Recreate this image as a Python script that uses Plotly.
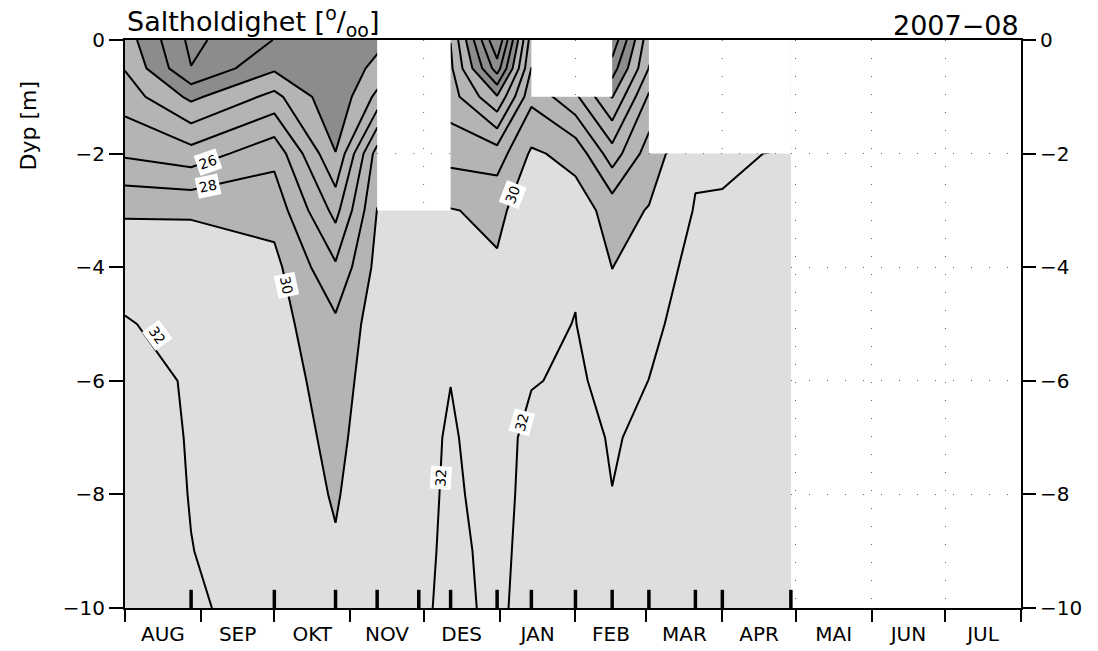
import pandas as pd
import plotly.graph_objects as go

# ---- station visits (first column: profile at the start of the year window) ----
dates = ["2007-08-01", "2007-08-28", "2007-10-01", "2007-10-26", "2007-11-12",
         "2007-11-29", "2007-12-12", "2007-12-31", "2008-01-14", "2008-02-01",
         "2008-02-16", "2008-03-02", "2008-03-21", "2008-04-01", "2008-04-29"]
depths = [0, 0.5, 1, 2, 3, 4, 5, 6, 7, 8, 9, 10]

# salinity profiles (per mille), surface to 10 m; None = not measured
s_0801 = [21.0, 21.9, 23.1, 25.7, 29.8, 31.15, 32.15, 32.35, 32.55, 32.7, 32.8, 32.9]
s_0828 = [15.5, 16.05, 19.55, 24.8, 29.8, 31.0, 31.32, 31.91, 31.93, 31.96, 32.02, 32.1]
s_1001 = [18.05, 19.7, 22.6, 27.4, 29.3, 30.55, 30.8, 31.1, 31.4, 31.45, 31.5, 31.7]
s_1026 = [18.8, 18.7, 18.4, 20.05, 23.35, 26.3, 28.4, 29.0, 29.4, 29.8, 30.2, 30.6]
s_1112 = [19.5, 20.5, 22.5, 28.9, 30.05, 30.6, 31.0, 31.2, 31.4, 31.5, 31.6, 31.7]
s_1129 = [None, None, None, None, 30.4, 30.9, 31.1, 31.2, 31.29, 31.35, 31.5, 31.65]
s_1212 = [23.95, 24.4, 24.9, 27.3, 30.1, 30.8, 31.3, 31.97, 32.25, 32.35, 32.4, 32.45]
s_1231 = [12.0, 15.0, 20.2, 27.0, 29.6, 30.2, 30.4, 30.6, 30.86, 31.22, 31.55, 31.65]
s_0114 = [25.0, 26.05, 27.5, 30.3, 31.0, 31.4, 31.6, 31.85, 32.75, 32.7, 32.6, 32.7]
s_0201 = [None, None, 24.4, 29.4, 30.9, 31.85, 32.04, 32.4, 32.5, 32.6, 32.7, 32.8]
s_0216 = [14.5, 17.0, 19.9, 24.9, 29.3, 29.98, 30.6, 31.2, 31.88, 32.02, 32.2, 32.3]
s_0302 = [23.3, 24.05, 26.3, 29.0, 30.1, 30.8, 31.5, 32.02, 32.3, 32.4, 32.5, 32.6]
s_0321 = [None, None, None, 31.72, 32.12, 32.68, 32.97, 33.0, 33.1, 33.1, 33.2, 33.2]
s_0401 = [None, None, None, 31.75, 32.15, 32.6, 32.9, 33.0, 33.1, 33.1, 33.2, 33.2]
s_0429 = [None, None, None, 32.17, 32.5, 32.8, 33.0, 33.1, 33.2, 33.2, 33.3, 33.3]

profiles = [s_0801, s_0828, s_1001, s_1026, s_1112, s_1129, s_1212, s_1231,
            s_0114, s_0201, s_0216, s_0302, s_0321, s_0401, s_0429]

month_names = ["AUG", "SEP", "OKT", "NOV", "DES", "JAN",
               "FEB", "MAR", "APR", "MAI", "JUN", "JUL"]
depth_ticks = [0, -2, -4, -6, -8, -10]

# contour labels: (time, depth, level, text angle)
contour_labels = [
    ("2007-09-04", -2.15, "26", -19),
    ("2007-09-04", -2.57, "28", -12),
    ("2007-10-06", -4.31, "30", 78),
    ("2008-01-06 08:00", -2.73, "30", -69),
    ("2007-08-14", -5.2, "32", 54),
    ("2007-12-08", -7.71, "32", -86),
    ("2008-01-10 05:00", -6.73, "32", -74),
]

x_start, x_end = "2007-08-01", "2008-08-01"
FONT = "DejaVu Sans"
DARK, MID, LIGHT = "#8c8c8c", "#b4b4b4", "#dedede"
GRID_DASH = "1px,17px"

n, m = len(dates), len(depths)
z = [[profiles[i][j] for i in range(n)] for j in range(m)]
ys = [-d for d in depths]

# band colours: levels 14..32 step 2, bands coloured at their mid value (13..33)
lo, hi = 13.0, 33.0
f20 = (20 - lo) / (hi - lo)
f30 = (30 - lo) / (hi - lo)
colorscale = [[0, DARK], [f20 - 0.001, DARK], [f20 + 0.001, MID],
              [f30 - 0.001, MID], [f30 + 0.001, LIGHT], [1, LIGHT]]

fig = go.Figure()
fig.add_trace(go.Contour(
    x=dates, y=ys, z=z, connectgaps=True,
    contours=dict(start=14, end=32, size=2, coloring="fill", showlabels=False),
    colorscale=colorscale, showscale=False,
    line=dict(color="black", width=2, smoothing=0),
    hoverinfo="skip"))

# ---- blank out the cells that touch a missing measurement ----
miss = [[profiles[i][j] is None for j in range(m)] for i in range(n)]
cell_bottom = []
for i in range(n - 1):
    b = 0
    for j in range(m - 1):
        if miss[i][j] or miss[i][j + 1] or miss[i + 1][j] or miss[i + 1][j + 1]:
            b = depths[j + 1]
    cell_bottom.append(b)

runs = []
i = 0
while i < n - 1:
    if cell_bottom[i] > 0:
        k = i
        while k + 1 < n - 1 and cell_bottom[k + 1] > 0:
            k += 1
        runs.append((i, k))
        i = k + 1
    else:
        i += 1

mask_x, mask_y = [], []
for (a, k) in runs:
    px = [dates[a], dates[k + 1]]
    py = [0, 0]
    for c in range(k, a - 1, -1):
        px += [dates[c + 1], dates[c]]
        py += [-cell_bottom[c], -cell_bottom[c]]
    px.append(dates[a])
    py.append(0)
    mask_x += px + [None]
    mask_y += py + [None]

fig.add_trace(go.Scatter(x=mask_x, y=mask_y, mode="lines", fill="toself",
                         fillcolor="white", line=dict(width=0, color="white"),
                         hoverinfo="skip", showlegend=False))

# dotted grid inside the blanked areas
month_starts = pd.date_range(x_start, x_end, freq="MS")
ts = [pd.Timestamp(d) for d in dates]
gx, gy = [], []
for (a, k) in runs:
    for ms in month_starts:
        if ts[a] < ms < ts[k + 1]:
            c = max(cc for cc in range(a, k + 1) if ts[cc] <= ms)
            gx += [ms, ms, None]
            gy += [0, -cell_bottom[c], None]
    for g in depth_ticks[1:-1]:
        seg = None
        for c in range(a, k + 2):
            ok = c <= k and cell_bottom[c] >= -g
            if ok and seg is None:
                seg = c
            if not ok and seg is not None:
                gx += [ts[seg], ts[c], None]
                gy += [g, g, None]
                seg = None
fig.add_trace(go.Scatter(x=gx, y=gy, mode="lines",
                         line=dict(color="#666666", width=1, dash=GRID_DASH),
                         hoverinfo="skip", showlegend=False))

# station marks along the bottom axis
tx, ty = [], []
for d in dates:
    if pd.Timestamp(d) > pd.Timestamp(x_start):
        tx += [d, d, None]
        ty += [-10, -9.68, None]
fig.add_trace(go.Scatter(x=tx, y=ty, mode="lines",
                         line=dict(color="black", width=3.5),
                         hoverinfo="skip", showlegend=False))

# carrier trace for the secondary (label) axes
fig.add_trace(go.Scatter(x=[x_start], y=[0], xaxis="x2", yaxis="y2",
                         mode="markers", marker=dict(opacity=0),
                         hoverinfo="skip", showlegend=False))

mid_month = month_starts[:-1] + (month_starts[1:] - month_starts[:-1]) / 2

annotations = []
for (t, dep, txt, ang) in contour_labels:
    annotations.append(dict(x=t, y=dep, xref="x", yref="y", text=txt,
                            showarrow=False, textangle=ang, bgcolor="white",
                            borderpad=2, font=dict(family=FONT, size=14, color="black")))
annotations += [
    dict(text="Saltholdighet [<sup>o</sup>/<sub>oo</sub>]", xref="paper", yref="paper",
         x=0, y=1, xanchor="left", yanchor="bottom", yshift=-3, showarrow=False,
         font=dict(family=FONT, size=27, color="black")),
    dict(text="2007\u221208", xref="paper", yref="paper",
         x=1, y=1, xanchor="right", yanchor="bottom", yshift=-3, showarrow=False,
         font=dict(family=FONT, size=27, color="black")),
    dict(text="Dyp [m]", xref="paper", yref="paper", x=-0.108, y=0.85,
         xanchor="center", yanchor="middle", textangle=-90, showarrow=False,
         font=dict(family=FONT, size=22, color="black")),
]

fig.update_layout(
    width=1098, height=651,
    margin=dict(l=125, r=77, t=40, b=43, autoexpand=False),
    paper_bgcolor="white", plot_bgcolor="white",
    font=dict(family=FONT, color="black"),
    showlegend=False,
    annotations=annotations,
    xaxis=dict(type="date", range=[x_start, x_end], tickvals=list(month_starts),
               showticklabels=False, ticks="outside", ticklen=12, tickwidth=1.5,
               tickcolor="black", showline=True, linewidth=2, linecolor="black",
               mirror=True, showgrid=True, gridcolor="#666666", gridwidth=1,
               griddash=GRID_DASH, zeroline=False, automargin=False),
    xaxis2=dict(type="date", range=[x_start, x_end], overlaying="x", anchor="y",
                side="bottom", tickvals=list(mid_month), ticktext=month_names,
                ticks="outside", ticklen=8, tickcolor="rgba(0,0,0,0)",
                tickfont=dict(family=FONT, size=20, color="black"),
                showgrid=False, showline=False, zeroline=False, automargin=False),
    yaxis=dict(range=[-10, 0], tickvals=depth_ticks, ticks="outside", ticklen=14,
               tickwidth=1.5, tickcolor="black",
               tickfont=dict(family=FONT, size=20, color="black"),
               showline=True, linewidth=2, linecolor="black", mirror=True,
               showgrid=True, gridcolor="#666666", gridwidth=1, griddash=GRID_DASH,
               zeroline=False, automargin=False),
    yaxis2=dict(range=[-10, 0], overlaying="y", anchor="x", side="right",
                tickvals=depth_ticks, ticks="outside", ticklen=14, tickwidth=1.5,
                tickcolor="black", tickfont=dict(family=FONT, size=20, color="black"),
                showgrid=False, showline=False, zeroline=False, automargin=False),
)

fig.write_html("out.html")
